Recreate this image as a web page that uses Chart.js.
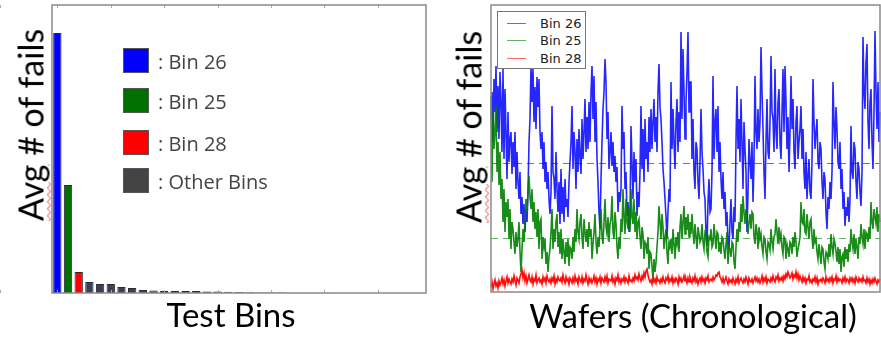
<!DOCTYPE html>
<html>
<head>
<meta charset="utf-8">
<script src="https://cdn.jsdelivr.net/npm/chart.js@4.4.1/dist/chart.umd.min.js"></script>
<style>
body { margin: 0; background: #fff; width: 881px; height: 339px; overflow: hidden; position: relative; font-family: Lato, "Open Sans", sans-serif; }
.panel { position: absolute; top: 0; height: 339px; }
.ytitle { position: absolute; transform: translate(-50%, -50%) rotate(-90deg); white-space: nowrap; font-size: 34px; color: #000; }
.ytitle span { text-decoration: underline wavy #e33; text-decoration-thickness: 1px; text-underline-offset: 3px; }
.xtitle { position: absolute; transform: translate(-50%, -50%); white-space: nowrap; color: #000; }
.sw { position: absolute; left: 123px; width: 24px; height: 23px; border: 1px solid #555; }
.swtxt { position: absolute; left: 158px; transform: translateY(-50%); font-family: "Open Sans", sans-serif; font-size: 20px; color: #444; white-space: nowrap; }
#lineLegend { position: absolute; left: 497px; top: 11px; width: 87px; height: 56px; border: 1px solid #777; background: #fff; }
#lineLegend .ln { position: absolute; left: 9px; width: 19px; height: 1px; }
#lineLegend .lt { position: absolute; left: 42px; transform: translateY(-50%); font-family: "DejaVu Sans", sans-serif; font-size: 13px; color: #222; }
</style>
</head>
<body>
<div class="panel" style="left:0;width:440px;"><canvas id="bin-chart" width="440" height="339"></canvas></div>
<div class="panel" style="left:440px;width:441px;"><canvas id="wafer-chart" width="441" height="339"></canvas></div>

<div class="ytitle" style="left:30px;top:125px;"><span>Avg</span> # of fails</div>
<div class="ytitle" style="left:468px;top:127px;"><span>Avg</span> # of fails</div>
<div class="xtitle" style="left:231px;top:314px;font-size:33px;">Test Bins</div>
<div class="xtitle" style="left:693px;top:315px;font-size:33px;">Wafers (Chronological)</div>

<!-- legend of the bar chart -->
<div class="sw" style="top:48px;background:#0000ff;"></div>
<div class="swtxt" style="top:61px;">: Bin 26</div>
<div class="sw" style="top:88px;background:#007000;"></div>
<div class="swtxt" style="top:101px;">: Bin 25</div>
<div class="sw" style="top:130px;background:#ff0000;"></div>
<div class="swtxt" style="top:143px;">: Bin 28</div>
<div class="sw" style="top:168px;background:#444;"></div>
<div class="swtxt" style="top:181px;">: Other Bins</div>

<!-- legend of the line chart -->
<div id="lineLegend">
  <div class="ln" style="top:11px;background:rgba(0,0,255,0.6);"></div><div class="lt" style="top:11px;">Bin 26</div>
  <div class="ln" style="top:28px;background:rgba(0,128,0,0.6);"></div><div class="lt" style="top:28px;">Bin 25</div>
  <div class="ln" style="top:46px;background:rgba(255,0,0,0.6);"></div><div class="lt" style="top:46px;">Bin 28</div>
</div>

<script>
// Avg number of fails per test bin (sorted)
const topBinNames = ['Bin 26', 'Bin 25', 'Bin 28'];
const topBinValues = [260, 108, 21];
const otherBinValues = [11, 9, 9, 6, 5, 3, 2.5, 2, 2, 2, 2, 1.6, 1.5, 1.2, 1, 0.8, 0.6, 0.5, 0.4, 0.3,
    0.3, 0.2, 0.2, 0.2, 0.1, 0.1, 0.1, 0.1, 0.1, 0.1, 0.1, 0.1];
const topBinColors = ['#0000ff', '#007000', '#ff0000'];
const otherBinColor = '#3c3f55';

// Fails per wafer, chronological (one row = 10 wafers)
const bin26Fails = [
    173, 200, 150, 213, 180, 226, 160, 206, 153, 220,
    190, 140, 223, 133, 203, 160, 113, 180, 130, 153,
    160, 118, 150, 125, 160, 103, 140, 110, 93, 120,
    78, 95, 68, 88, 60, 83, 70, 100, 150, 173,
    226, 190, 223, 170, 205, 163, 215, 185, 213, 160,
    143, 160, 123, 150, 110, 130, 103, 120, 93, 78,
    100, 186, 120, 113, 93, 140, 103, 80, 110, 68,
    123, 78, 105, 70, 113, 85, 93, 75, 110, 130,
    150, 186, 123, 160, 140, 103, 153, 120, 163, 135,
    118, 173, 133, 160, 193, 140, 175, 143, 190, 150,
    200, 226, 173, 216, 150, 190, 133, 110, 80, 63,
    113, 150, 183, 200, 233, 210, 153, 180, 123, 140,
    160, 126, 150, 120, 136, 110, 125, 80, 100, 90,
    103, 186, 143, 160, 103, 120, 76, 90, 60, 75,
    166, 130, 93, 140, 110, 133, 76, 100, 85, 120,
    186, 123, 163, 110, 173, 133, 150, 120, 175, 140,
    183, 143, 170, 193, 150, 175, 140, 200, 228, 185,
    173, 150, 123, 110, 93, 75, 53, 80, 103, 90,
    210, 143, 183, 150, 123, 170, 193, 140, 180, 150,
    260, 173, 243, 200, 153, 190, 220, 260, 180, 210,
    210, 133, 173, 120, 103, 150, 143, 110, 93, 130,
    183, 140, 123, 100, 93, 60, 46, 90, 113, 80,
    83, 120, 216, 133, 170, 183, 140, 186, 120, 150,
    113, 93, 120, 83, 100, 66, 80, 50, 43, 70,
    93, 60, 53, 85, 70, 150, 206, 143, 173, 130,
    193, 150, 103, 170, 143, 120, 60, 100, 153, 130,
    113, 150, 90, 130, 216, 160, 143, 183, 150, 170,
    245, 200, 163, 120, 93, 150, 193, 140, 133, 170,
    236, 180, 173, 140, 223, 160, 143, 190, 203, 150,
    133, 180, 223, 160, 226, 190, 143, 175, 120, 160,
    216, 163, 193, 140, 123, 170, 186, 133, 150, 163,
    186, 133, 163, 120, 103, 140, 93, 115, 133, 100,
    93, 130, 213, 170, 143, 160, 173, 130, 123, 150,
    143, 110, 93, 120, 113, 80, 63, 95, 83, 110,
    93, 120, 210, 170, 143, 185, 163, 130, 123, 150,
    103, 123, 83, 100, 66, 85, 76, 95, 70, 93,
    166, 120, 113, 150, 143, 110, 93, 130, 123, 100,
    86, 120, 255, 200, 183, 230, 248, 170, 143, 190,
    203, 150, 123, 180, 261, 200, 163, 210, 150, 180
];
const bin25Fails = [
    196, 110, 183, 143, 160, 186, 120, 150, 107, 140,
    93, 113, 70, 103, 60, 90, 75, 93, 53, 83,
    43, 70, 63, 50, 38, 60, 45, 53, 70, 40,
    20, 43, 63, 50, 70, 93, 80, 100, 116, 95,
    83, 103, 70, 90, 63, 80, 55, 83, 43, 70,
    73, 33, 55, 45, 53, 28, 40, 20, 35, 43,
    60, 83, 43, 63, 50, 70, 78, 45, 60, 38,
    63, 33, 53, 40, 28, 50, 35, 53, 26, 45,
    43, 33, 55, 40, 63, 50, 83, 60, 53, 70,
    78, 55, 43, 73, 60, 50, 63, 45, 70, 55,
    63, 33, 48, 60, 78, 50, 38, 55, 45, 63,
    83, 55, 48, 70, 93, 65, 58, 75, 50, 68,
    73, 96, 60, 53, 80, 68, 45, 33, 55, 43,
    73, 60, 103, 75, 58, 93, 70, 63, 85, 60,
    103, 75, 68, 93, 60, 80, 53, 70, 73, 55,
    43, 65, 58, 33, 50, 48, 38, 55, 23, 40,
    38, 25, 13, 33, 20, 30, 45, 60, 86, 70,
    53, 78, 65, 43, 55, 63, 40, 28, 50, 45,
    53, 38, 63, 48, 33, 55, 48, 60, 40, 65,
    78, 53, 70, 86, 58, 75, 62, 78, 55, 70,
    58, 78, 60, 48, 68, 55, 43, 65, 58, 50,
    53, 68, 50, 43, 60, 58, 40, 35, 55, 53,
    63, 45, 48, 68, 55, 43, 60, 58, 40, 50,
    38, 55, 53, 42, 33, 48, 60, 28, 45, 43,
    35, 50, 48, 30, 23, 45, 63, 50, 70, 60,
    88, 70, 96, 80, 68, 83, 75, 58, 70, 78,
    63, 80, 78, 55, 48, 68, 60, 43, 65, 53,
    58, 45, 38, 55, 53, 40, 33, 50, 48, 42,
    63, 50, 43, 55, 58, 73, 60, 48, 65, 52,
    58, 45, 38, 55, 53, 33, 48, 43, 35, 50,
    48, 38, 55, 45, 60, 50, 35, 43, 48, 55,
    90, 70, 68, 83, 60, 58, 78, 65, 53, 70,
    73, 55, 43, 63, 50, 53, 40, 33, 48, 38,
    28, 45, 43, 30, 23, 40, 38, 33, 48, 35,
    58, 45, 38, 53, 48, 40, 30, 45, 28, 43,
    20, 35, 38, 25, 45, 33, 43, 30, 48, 40,
    63, 50, 43, 58, 38, 53, 45, 33, 55, 48,
    68, 55, 48, 63, 43, 60, 58, 50, 65, 53,
    90, 70, 63, 83, 75, 68, 85, 60, 78, 70
];
const bin28Fails = [
    5, 10, 3, 8, 12, 6, 9, 4, 11, 7,
    10, 14, 8, 12, 6, 11, 15, 9, 13, 10,
    8, 13, 10, 16, 11, 7, 14, 12, 9, 15,
    18, 22, 14, 19, 11, 16, 9, 13, 17, 12,
    10, 15, 8, 13, 11, 17, 9, 12, 14, 10,
    12, 8, 15, 11, 14, 9, 16, 12, 10, 13,
    9, 14, 11, 16, 8, 13, 10, 15, 12, 11,
    14, 10, 17, 12, 9, 15, 11, 13, 8, 14,
    12, 9, 14, 10, 16, 11, 13, 8, 15, 12,
    10, 15, 9, 13, 11, 17, 12, 8, 14, 10,
    13, 9, 12, 16, 10, 14, 8, 13, 11, 15,
    9, 14, 12, 10, 15, 11, 16, 9, 13, 12,
    11, 16, 10, 13, 8, 14, 12, 17, 10, 13,
    9, 13, 11, 15, 10, 14, 12, 9, 16, 11,
    12, 10, 14, 11, 17, 13, 15, 12, 18, 14,
    11, 16, 13, 19, 15, 21, 23, 17, 13, 10,
    12, 8, 14, 10, 13, 9, 15, 11, 12, 9,
    13, 10, 15, 11, 9, 14, 12, 16, 10, 13,
    11, 15, 9, 13, 10, 14, 12, 8, 15, 11,
    14, 10, 12, 16, 11, 13, 9, 14, 10, 15,
    12, 9, 14, 11, 16, 10, 13, 8, 12, 14,
    10, 15, 11, 13, 9, 14, 12, 16, 10, 12,
    13, 11, 15, 12, 14, 17, 16, 19, 20, 15,
    13, 10, 14, 9, 12, 15, 11, 8, 13, 10,
    12, 9, 14, 11, 8, 13, 10, 15, 9, 12,
    14, 11, 9, 13, 10, 15, 12, 8, 14, 11,
    10, 13, 9, 12, 15, 11, 14, 10, 13, 9,
    12, 16, 10, 14, 11, 15, 9, 13, 12, 10,
    14, 11, 16, 12, 10, 15, 13, 17, 11, 14,
    12, 15, 11, 16, 13, 18, 15, 20, 17, 14,
    16, 19, 13, 17, 15, 20, 14, 18, 12, 16,
    13, 10, 15, 11, 14, 9, 13, 12, 16, 10,
    12, 9, 13, 11, 15, 10, 14, 8, 12, 11,
    13, 10, 14, 12, 9, 15, 11, 13, 10, 14,
    11, 15, 9, 13, 12, 16, 10, 14, 11, 13,
    12, 9, 14, 11, 15, 10, 13, 12, 9, 14,
    11, 14, 10, 13, 9, 15, 12, 10, 14, 11,
    13, 10, 15, 11, 12, 9, 14, 10, 13, 8,
    12, 9, 13, 10, 14, 11, 8, 12, 10, 13
];
// average levels drawn as dashed lines
const meanLevels = [129, 54];
const meanColors = ['rgba(0,0,255,0.6)', 'rgba(0,128,0,0.6)'];

// frame + inward tick marks like the original plot
const framePlugin = {
    id: 'frame',
    afterDraw: (chart, args, opts) => {
        const ctx = chart.ctx;
        const a = chart.chartArea;
        ctx.save();
        if (opts.ticks) {
            const x = chart.scales.x;
            ctx.strokeStyle = '#aaa';
            ctx.lineWidth = 1;
            for (let i = 0; i < chart.data.labels.length; i++) {
                const px = Math.round(x.getPixelForTick(i)) + 0.5;
                ctx.beginPath();
                ctx.moveTo(px, a.top); ctx.lineTo(px, a.top + 3);
                ctx.moveTo(px, a.bottom); ctx.lineTo(px, a.bottom - 3);
                ctx.stroke();
            }
        }
        ctx.strokeStyle = '#8a8a8a';
        ctx.lineWidth = 1.5;
        ctx.strokeRect(a.left, a.top, a.right - a.left, a.bottom - a.top);
        ctx.restore();
    }
};

const meanPlugin = {
    id: 'meanLines',
    beforeDatasetsDraw: (chart) => {
        const ctx = chart.ctx;
        const a = chart.chartArea;
        const y = chart.scales.y;
        ctx.save();
        ctx.setLineDash([7, 5]);
        ctx.lineWidth = 1;
        meanLevels.forEach((m, i) => {
            const py = Math.round(y.getPixelForValue(m)) + 0.5;
            ctx.strokeStyle = meanColors[i];
            ctx.beginPath();
            ctx.moveTo(a.left, py);
            ctx.lineTo(a.right, py);
            ctx.stroke();
        });
        ctx.restore();
    }
};

// Test bins
const binValues = topBinValues.concat(otherBinValues);
const binLabels = topBinNames.concat(otherBinValues.map((v, i) => 'Other ' + (i + 1)));
const binColors = topBinColors.concat(otherBinValues.map(() => otherBinColor));

new Chart(document.querySelector('#bin-chart'), {
    type: 'bar',
    data: {
        labels: binLabels,
        datasets: [{
            label: 'Avg # of fails',
            data: binValues,
            backgroundColor: binColors,
            borderColor: '#2a2a3a',
            borderWidth: 1,
            categoryPercentage: 1,
            barPercentage: 0.78
        }]
    },
    options: {
        responsive: false,
        animation: false,
        layout: { padding: { left: 52, top: 5, right: 14, bottom: 46 } },
        scales: {
            x: { display: false },
            y: { display: false, min: 0, max: 288 }
        },
        plugins: {
            legend: { display: false },
            tooltip: { enabled: false },
            frame: { ticks: true }
        }
    },
    plugins: [framePlugin]
});

// Wafers
const waferLabels = bin26Fails.map((v, i) => i + 1);

new Chart(document.querySelector('#wafer-chart'), {
    type: 'line',
    data: {
        labels: waferLabels,
        datasets: [
            { label: 'Bin 26', data: bin26Fails, borderColor: 'rgba(0,0,255,0.85)', order: 3 },
            { label: 'Bin 25', data: bin25Fails, borderColor: 'rgba(0,128,0,0.9)', order: 2 },
            { label: 'Bin 28', data: bin28Fails, borderColor: 'rgba(255,0,0,0.95)', order: 1 }
        ]
    },
    options: {
        responsive: false,
        animation: false,
        layout: { padding: { left: 51, top: 5, right: 1, bottom: 47 } },
        elements: {
            line: { borderWidth: 1.6, tension: 0 },
            point: { radius: 0 }
        },
        scales: {
            x: { display: false, offset: false },
            y: { display: false, min: 0, max: 287 }
        },
        plugins: {
            legend: { display: false },
            tooltip: { enabled: false },
            frame: { ticks: false }
        }
    },
    plugins: [meanPlugin, framePlugin]
});
</script>
</body>
</html>
